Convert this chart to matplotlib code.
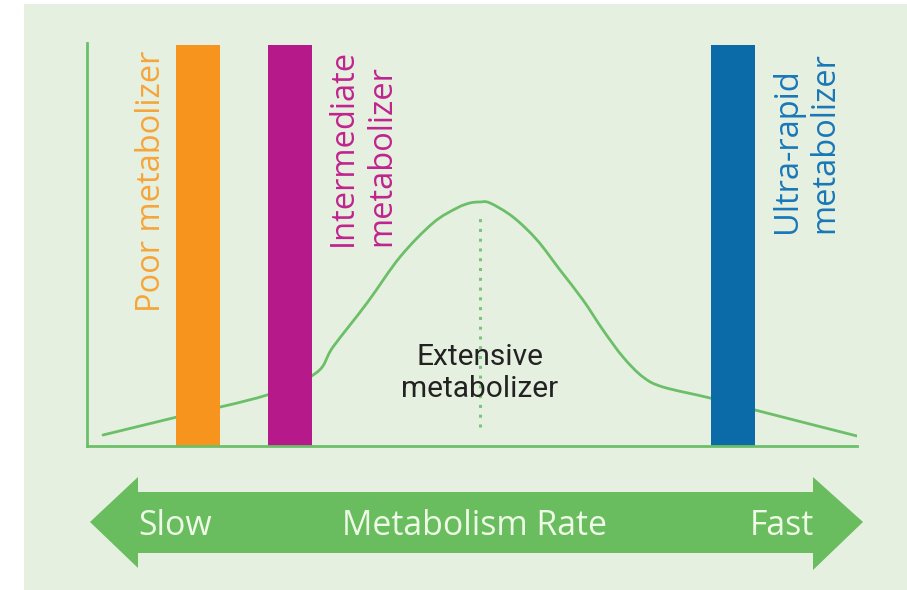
import matplotlib
matplotlib.use("Agg")
import matplotlib.pyplot as plt
from matplotlib import font_manager as fm
from matplotlib.patches import Rectangle, Polygon, PathPatch
from matplotlib.path import Path

# ---------------- data (schematic units: rate on x, frequency on y) ----------------
curve_rate = [16, 90, 180, 229, 246, 280, 313, 346, 370, 383, 393, 403, 426,
              450, 473, 496, 516, 536, 556, 576, 623, 668, 770]
curve_freq = [11, 29, 51, 73, 99, 143, 189, 223, 238, 243, 244, 243, 229,
              206, 176, 146, 116, 89, 69, 59, 48, 36, 10]

phenotypes = ["Poor", "Intermediate", "Ultra-rapid"]
phenotype_rate = [110.5, 202.5, 645.5]
phenotype_height = [401, 401, 401]

peak_rate = 393
peak_line_range = [19, 233]

label_lines = {
    "Poor": ["Poor metabolizer"],
    "Intermediate": ["Intermediate", "metabolizer"],
    "Ultra-rapid": ["Ultra-rapid", "metabolizer"],
}
extensive_lines = ["Extensive", "metabolizer"]
arrow_labels = ["Slow", "Metabolism Rate", "Fast"]

# ---------------- styles ----------------
BAR_COLORS = ["#f7941d", "#b5198a", "#0b6aa8"]
TEXT_COLORS = ["#f6a53a", "#c0248e", "#1a78b8"]
LINE_GREEN = "#6cbf69"
PANEL = "#e6f0e0"
ARROW_GREEN = "#69bd5e"
ARROW_TEXT = "#eefbe6"

names = {f.name for f in fm.fontManager.ttflist}
def pick(cands):
    for c in cands:
        if c in names:
            return c
    return "DejaVu Sans"

HUMAN = pick(["Open Sans", "Noto Sans", "Lato", "DejaVu Sans"])
NARROW = pick(["Liberation Sans Narrow", "Roboto", "DejaVu Sans"])

W, H = 907, 590
fig = plt.figure(figsize=(W / 100, H / 100), dpi=100, facecolor="white")

# background / decoration axes in pixel units
bg = fig.add_axes([0, 0, 1, 1], zorder=0)
bg.set_xlim(0, W)
bg.set_ylim(H, 0)
bg.axis("off")
bg.add_patch(Rectangle((24, 4), W - 24, H - 4, facecolor=PANEL, edgecolor="none"))
arrow_pts = [(90, 522), (138, 477), (138, 492), (813, 492), (813, 477), (863, 522),
             (813, 570), (813, 553), (138, 553), (138, 568)]
bg.add_patch(Polygon(arrow_pts, closed=True, facecolor=ARROW_GREEN, edgecolor="none"))

# main plot axes
x0, y_base = 87, 446
ax = fig.add_axes([x0 / W, (H - y_base) / H, 770 / W, 403 / H], zorder=1)
ax.patch.set_visible(False)
ax.set_xlim(0, 770)
ax.set_ylim(0, 403)
for s in ["top", "right"]:
    ax.spines[s].set_visible(False)
for s in ["left", "bottom"]:
    ax.spines[s].set_color(LINE_GREEN)
    ax.spines[s].set_linewidth(2.0)
ax.set_xticks([])
ax.set_yticks([])

# smooth (Catmull-Rom style Bezier) rendering of the read curve points
pts = list(zip(curve_rate, curve_freq))
verts = [pts[0]]
codes = [Path.MOVETO]
n = len(pts)
for i in range(n - 1):
    p0 = pts[max(i - 1, 0)]
    p1 = pts[i]
    p2 = pts[i + 1]
    p3 = pts[min(i + 2, n - 1)]
    c1 = (p1[0] + (p2[0] - p0[0]) / 6.0, p1[1] + (p2[1] - p0[1]) / 6.0)
    c2 = (p2[0] - (p3[0] - p1[0]) / 6.0, p2[1] - (p3[1] - p1[1]) / 6.0)
    verts += [c1, c2, p2]
    codes += [Path.CURVE4] * 3
ax.add_patch(PathPatch(Path(verts, codes), facecolor="none", edgecolor=LINE_GREEN,
                       lw=2.0, zorder=1, capstyle="round", joinstyle="round"))

ax.bar(phenotype_rate, phenotype_height, width=44, color=BAR_COLORS, zorder=2)
ax.plot([peak_rate, peak_rate], peak_line_range, color="#7cc47a", lw=2.2,
        linestyle=(0, (1, 2.2)), zorder=1)

fig.canvas.draw()
renderer = fig.canvas.get_renderer()

def fit(t, target, vertical=False):
    bb = t.get_window_extent(renderer)
    cur = bb.height if vertical else bb.width
    t.set_fontsize(t.get_fontsize() * target / cur)
    return t.get_fontsize()

# rotated phenotype labels: (baseline x px, start y px) per line
label_pos = {
    "Poor": [(160, 312)],
    "Intermediate": [(352, 246), (390, 246)],
    "Ultra-rapid": [(796, 233), (833, 233)],
}
texts = []
for name, col in zip(phenotypes, TEXT_COLORS):
    for line, (px, py) in zip(label_lines[name], label_pos[name]):
        t = ax.text(px - x0, y_base - py, line, rotation=90, rotation_mode="anchor",
                    ha="left", va="baseline", color=col, family=HUMAN, fontsize=20)
        texts.append(t)
size = fit(texts[0], 262, vertical=True)
for t in texts:
    t.set_fontsize(size)

# extensive metabolizer
ext_base = [365, 397]
ext = [ax.text(peak_rate, y_base - by, s, ha="center", va="baseline",
               color="#222222", family=NARROW, fontsize=18)
       for s, by in zip(extensive_lines, ext_base)]
es = fit(ext[1], 157)
ext[0].set_fontsize(es)

# arrow labels
arrow_x = [175, 475, 782]
at = [bg.text(x, 535, s, ha="center", va="baseline", color=ARROW_TEXT,
              family=HUMAN, fontsize=20) for x, s in zip(arrow_x, arrow_labels)]
asz = fit(at[1], 265)
for t in at:
    t.set_fontsize(asz)

fig.savefig("out.png", dpi=100, facecolor="white")
